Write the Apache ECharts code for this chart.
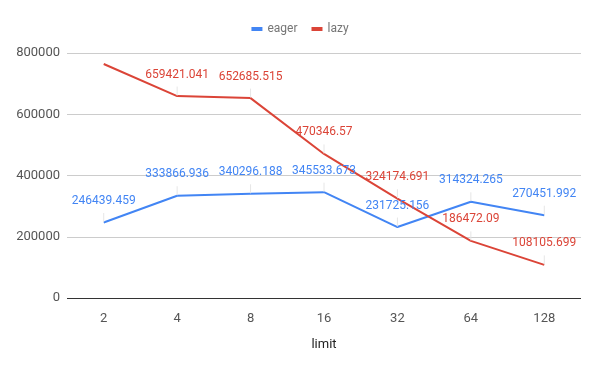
<!DOCTYPE html>
<html><head><meta charset="utf-8">
<script src="https://cdn.jsdelivr.net/npm/echarts@6/dist/echarts.min.js"></script>
<style>html,body{margin:0;padding:0;background:#fff}#c{width:600px;height:371px}</style>
</head><body><div id="c"></div>
<script>
const categories = ['2','4','8','16','32','64','128'];
const eager = [246439.459, 333866.936, 340296.188, 345533.673, 231725.156, 314324.265, 270451.992];
const lazy = [764000, 659421.041, 652685.515, 470346.57, 324174.691, 186472.09, 108105.699];
const lazyLabelShown = [false, true, true, true, true, true, true];
const yTicks = [0, 200000, 400000, 600000, 800000];

const chart = echarts.init(document.getElementById('c'));
const font = 'Roboto, Arial, sans-serif';
function mk(name, vals, color, shown) {
  return {
    name, type: 'line', symbol: 'circle', symbolSize: 1, showSymbol: true, smooth: false,
    lineStyle: {width: 2, color}, itemStyle: {color: 'rgba(0,0,0,0)', borderWidth: 0},
    data: vals.map((v, i) => ({value: v, label: {show: shown ? shown[i] : true}})),
    label: {show: true, position: 'top', distance: 15, color, fontSize: 12, fontFamily: font,
      formatter: p => String(p.value)},
    labelLine: {show: true, lineStyle: {color: '#e6e6e6', width: 1}},
    emphasis: {disabled: true}
  };
}
chart.setOption({
  animation: false,
  textStyle: {fontFamily: font},
  legend: {top: 18, left: 'center', icon: 'rect', itemWidth: 11, itemHeight: 4, itemGap: 14,
    textStyle: {color: '#757575', fontSize: 12, fontFamily: font},
    data: [{name: 'eager', itemStyle: {color: '#4285F4'}}, {name: 'lazy', itemStyle: {color: '#DB4437'}}]},
  grid: {left: 67, right: 19, top: 53, bottom: 73},
  xAxis: {type: 'category', data: categories, boundaryGap: true,
    name: 'limit', nameLocation: 'middle', nameGap: 40,
    nameTextStyle: {color: '#222', fontSize: 13, fontFamily: font},
    axisLine: {show: false}, axisTick: {show: false},
    axisLabel: {color: '#555', fontSize: 13, margin: 14, fontFamily: font}},
  yAxis: {type: 'value', min: yTicks[0], max: yTicks[yTicks.length-1], interval: 200000,
    axisLine: {show: false}, axisTick: {show: false},
    axisLabel: {color: '#555', fontSize: 13, margin: 7, fontFamily: font, formatter: v => String(v)},
    splitLine: {lineStyle: {color: '#cccccc'}}},
  series: [
    mk('eager', eager, '#4285F4'),
    mk('lazy', lazy, '#DB4437', lazyLabelShown),
    {type: 'line', data: [], silent: true,
     markLine: {symbol: 'none', silent: true, label: {show: false},
       lineStyle: {color: '#333', width: 1, type: 'solid'}, data: [{yAxis: 0}]}}
  ]
});
</script></body></html>
